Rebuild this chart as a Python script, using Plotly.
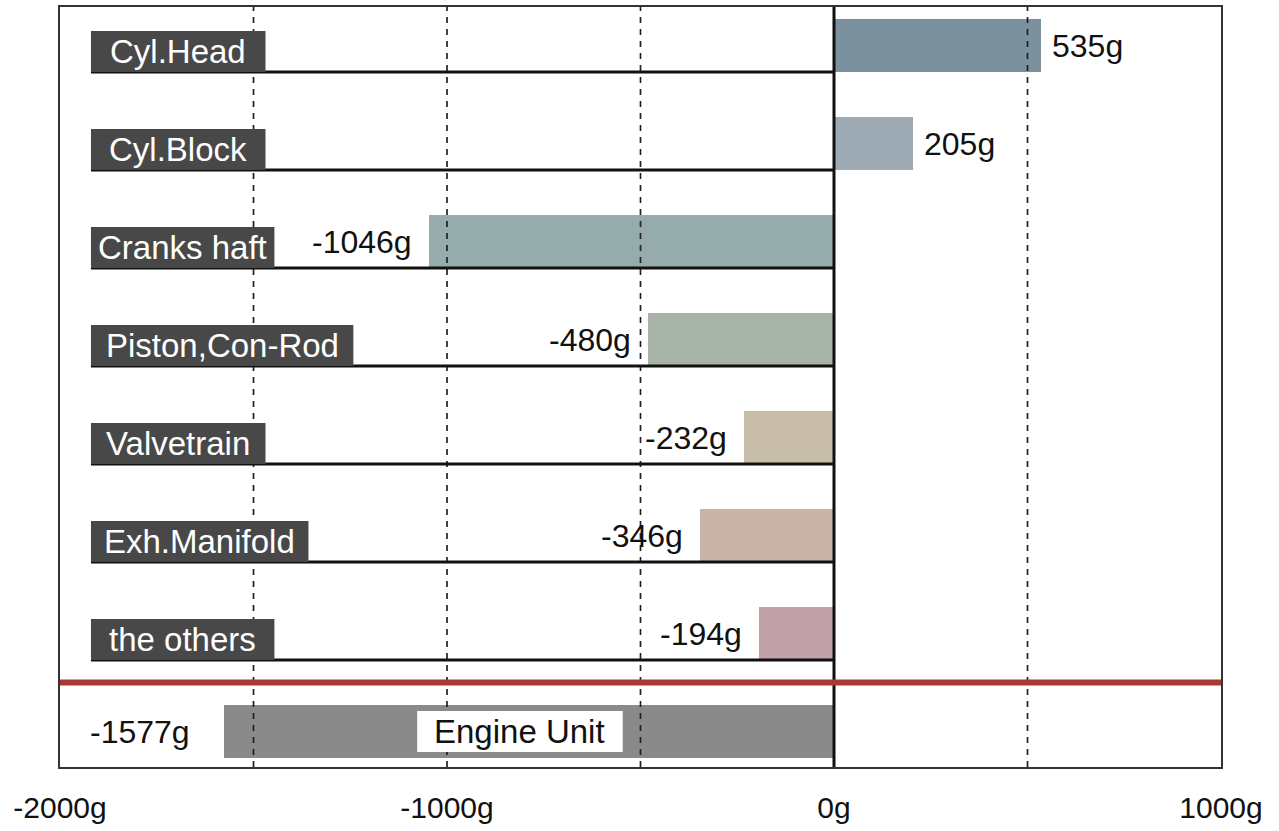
import plotly.graph_objects as go

# ---- data ----
categories = ["Cyl.Head", "Cyl.Block", "Cranks haft", "Piston,Con-Rod",
              "Valvetrain", "Exh.Manifold", "the others"]
values = [535, 205, -1046, -480, -232, -346, -194]
total_label = "Engine Unit"
total_value = -1577
tick_values = [-2000, -1000, 0, 1000]
tick_labels = ["-2000g", "-1000g", "0g", "1000g"]
grid_values = [-1500, -1000, -500, 500]

# ---- style ----
bar_colors = ["#7b919e", "#9eabb4", "#96abab", "#a9b4a8",
              "#c8bda8", "#c8b4a8", "#c0a2a8"]
total_color = "#8a8a8a"
label_box_left = -1920
label_box_right = [-1469, -1469, -1446, -1242, -1469, -1358, -1446]
FONT = "Liberation Sans, Arial, Helvetica, sans-serif"

rows = list(range(len(categories)))
total_row = len(categories)
bar_w = 0.54
half = bar_w / 2

fig = go.Figure()
fig.add_trace(go.Bar(x=values, y=rows, orientation="h", width=bar_w,
                     marker=dict(color=bar_colors, line=dict(width=0)),
                     hoverinfo="skip", showlegend=False))
fig.add_trace(go.Bar(x=[total_value], y=[total_row], orientation="h", width=bar_w,
                     marker=dict(color=total_color, line=dict(width=0)),
                     hoverinfo="skip", showlegend=False))

shapes = []
# dashed grid lines (over bars)
for g in grid_values:
    shapes.append(dict(type="line", xref="x", yref="paper", x0=g, x1=g, y0=0, y1=1,
                       line=dict(color="#222", width=1.7, dash="6px,6px"), layer="above"))
# baselines under each category
for r in rows:
    shapes.append(dict(type="line", xref="x", yref="y", x0=label_box_left, x1=0,
                       y0=r + half, y1=r + half, line=dict(color="#111", width=3), layer="above"))
# label boxes
for r, xr in zip(rows, label_box_right):
    shapes.append(dict(type="rect", xref="x", yref="y", x0=label_box_left, x1=xr,
                       y0=r - 0.148, y1=r + half, fillcolor="#484848",
                       line=dict(width=0), layer="above"))
# zero line
shapes.append(dict(type="line", xref="x", yref="paper", x0=0, x1=0, y0=0, y1=1,
                   line=dict(color="#111", width=3), layer="above"))
# red separator
shapes.append(dict(type="line", xref="paper", yref="y", x0=0, x1=1,
                   y0=total_row - 0.5, y1=total_row - 0.5,
                   line=dict(color="#a83a32", width=6), layer="above"))
# Engine Unit white box
shapes.append(dict(type="rect", xref="x", yref="y", x0=-1077, x1=-546,
                   y0=total_row - 0.21, y1=total_row + 0.21, fillcolor="white",
                   line=dict(width=0), layer="above"))

annotations = []
for r, c, xr in zip(rows, categories, label_box_right):
    annotations.append(dict(x=(label_box_left + xr) / 2, y=r + 0.061, xref="x", yref="y",
                            text=c, showarrow=False, xanchor="center", yanchor="middle",
                            font=dict(family=FONT, size=33, color="white")))
for r, v in zip(rows, values):
    if v >= 0:
        annotations.append(dict(x=v, y=r, xref="x", yref="y", text=f"{v}g", showarrow=False,
                                xanchor="left", yanchor="middle", xshift=9,
                                font=dict(family=FONT, size=32, color="#111")))
    else:
        annotations.append(dict(x=v, y=r, xref="x", yref="y", text=f"{v}g", showarrow=False,
                                xanchor="right", yanchor="middle", xshift=-15,
                                font=dict(family=FONT, size=32, color="#111")))
annotations.append(dict(x=total_value, y=total_row, xref="x", yref="y", text=f"{total_value}g",
                        showarrow=False, xanchor="right", yanchor="middle", xshift=-32,
                        font=dict(family=FONT, size=32, color="#111")))
annotations.append(dict(x=(-1077 + -546) / 2, y=total_row, xref="x", yref="y", text=total_label,
                        showarrow=False, xanchor="center", yanchor="middle",
                        font=dict(family=FONT, size=33, color="#111")))

fig.update_layout(
    width=1279, height=831,
    margin=dict(l=60, r=58, t=7, b=64, autoexpand=False),
    paper_bgcolor="white", plot_bgcolor="white",
    barmode="overlay", bargap=0,
    shapes=shapes, annotations=annotations,
    showlegend=False,
    xaxis=dict(range=[-2000, 1000], tickvals=tick_values, ticktext=tick_labels,
               showgrid=False, zeroline=False, showline=True, mirror=True,
               linecolor="#333", linewidth=2, ticks="outside", ticklen=13,
               tickcolor="rgba(0,0,0,0)", automargin=False,
               tickfont=dict(family=FONT, size=30, color="#111")),
    yaxis=dict(range=[7.362, -0.393], showticklabels=False, showgrid=False,
               automargin=False,
               zeroline=False, showline=True, mirror=True, linecolor="#333", linewidth=2),
)

fig.write_html("out.html", config={"displayModeBar": False},
               post_script="document.body.style.margin='0';document.body.style.overflow='hidden';")
